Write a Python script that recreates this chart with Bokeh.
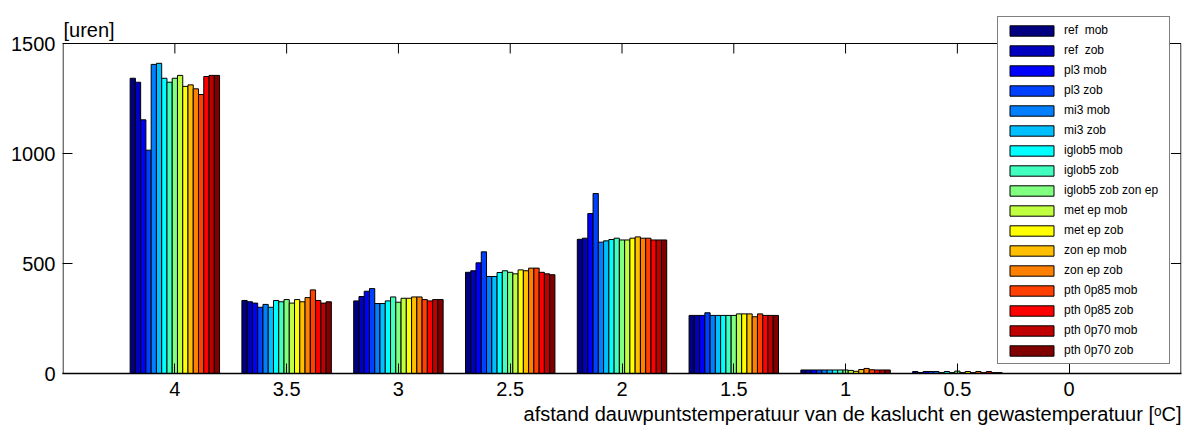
from bokeh.plotting import figure
from bokeh.models import (ColumnDataSource, Range1d, FixedTicker, Legend, LegendItem, Label)
from bokeh.transform import dodge
from bokeh.embed import file_html
from bokeh.resources import INLINE

# ---------------- data ----------------
categories = ["4", "3.5", "3", "2.5", "2", "1.5", "1", "0.5", "0"]
y_ticks = [0, 500, 1000, 1500]

series_names = ["ref  mob", "ref  zob", "pl3 mob", "pl3 zob", "mi3 mob", "mi3 zob",
                "iglob5 mob", "iglob5 zob", "iglob5 zob zon ep", "met ep mob",
                "met ep zob", "zon ep mob", "zon ep zob", "pth 0p85 mob",
                "pth 0p85 zob", "pth 0p70 mob", "pth 0p70 zob"]

ref_mob = [1342, 332, 330, 460, 610, 264, 16, 9, 0]
ref_zob = [1324, 326, 350, 467, 615, 264, 16, 4, 0]
pl3_mob = [1153, 320, 374, 503, 727, 264, 16, 9, 0]
pl3_zob = [1015, 301, 386, 553, 818, 276, 16, 9, 0]
mi3_mob = [1405, 314, 318, 441, 597, 264, 16, 9, 0]
mi3_zob = [1410, 301, 318, 441, 603, 264, 16, 4, 0]
iglob5_mob = [1342, 332, 330, 459, 609, 264, 16, 9, 0]
iglob5_zob = [1324, 326, 348, 467, 615, 264, 16, 4, 0]
iglob5_zob_zon_ep = [1342, 336, 324, 460, 607, 264, 16, 11, 0]
met_ep_mob = [1355, 320, 342, 453, 607, 271, 14, 4, 0]
met_ep_zob = [1305, 336, 342, 471, 615, 271, 10, 9, 0]
zon_ep_mob = [1312, 326, 348, 467, 621, 271, 18, 4, 0]
zon_ep_zob = [1294, 345, 348, 479, 615, 258, 23, 9, 0]
pth_0p85_mob = [1268, 380, 336, 479, 615, 271, 17, 4, 0]
pth_0p85_zob = [1350, 332, 330, 460, 607, 264, 16, 9, 0]
pth_0p70_mob = [1355, 320, 336, 453, 607, 264, 16, 4, 0]
pth_0p70_zob = [1355, 326, 336, 449, 607, 264, 16, 4, 0]

series_values = [ref_mob, ref_zob, pl3_mob, pl3_zob, mi3_mob, mi3_zob,
                 iglob5_mob, iglob5_zob, iglob5_zob_zon_ep, met_ep_mob,
                 met_ep_zob, zon_ep_mob, zon_ep_zob, pth_0p85_mob,
                 pth_0p85_zob, pth_0p70_mob, pth_0p70_zob]

y_title = "[uren]"
x_title = "afstand dauwpuntstemperatuur van de kaslucht en gewastemperatuur [\u1d52C]"

# ---------------- style ----------------
colors = ["#000080", "#0000BF", "#0000FF", "#0040FF", "#0080FF", "#00BFFF",
          "#00FFFF", "#40FFBF", "#80FF80", "#BFFF40", "#FFFF00", "#FFBF00",
          "#FF8000", "#FF4000", "#FF0000", "#BF0000", "#800000"]
FONT = "Liberation Sans"

xpos = [i + 1 for i in range(len(categories))]
x_lo, x_hi = 0, len(categories) + 1
y_max = y_ticks[-1]
# the frame reaches the top of the page so the legend is not clipped;
# the axes box itself ends at y_max
y_view_top = y_max * 373 / 330

data = {"x": xpos}
keys = []
for i, vals in enumerate(series_values):
    k = "s%d" % i
    keys.append(k)
    data[k] = vals
source = ColumnDataSource(data)

p = figure(width=1184, height=432, x_range=Range1d(x_lo - 0.005, x_hi + 0.005),
           y_range=Range1d(0, y_view_top),
           output_backend="svg", toolbar_location=None,
           min_border_left=62, min_border_right=3, min_border_top=0, min_border_bottom=59,
           background_fill_color="white", border_fill_color="white")
p.outline_line_color = None
p.xgrid.visible = False
p.ygrid.visible = False

# axes box (0..y_max) with inward ticks on top and right
p.quad(left=[x_lo], right=[x_hi], bottom=[0], top=[y_max], fill_color=None,
       line_color="black", line_width=1)
p.ray(x=xpos, y=[y_max] * len(xpos), length=10, length_units="screen",
      angle=-90, angle_units="deg", line_color="black", line_width=1)
p.ray(x=[x_hi] * (len(y_ticks) - 2), y=y_ticks[1:-1], length=10, length_units="screen",
      angle=180, angle_units="deg", line_color="black", line_width=1)

n = len(series_values)
group_w = 0.8
bw = group_w / n
items = []
for i, k in enumerate(keys):
    off = (i - (n - 1) / 2) * bw
    r = p.vbar(x=dodge("x", off, range=p.x_range), top=k, width=bw, bottom=0,
               source=source, fill_color=colors[i], line_color="black", line_width=1)
    items.append(LegendItem(label=series_names[i], renderers=[r]))

# axes
xa = p.xaxis[0]
xa.ticker = FixedTicker(ticks=xpos)
xa.major_label_overrides = {x: c for x, c in zip(xpos, categories)}
ya = p.yaxis[0]
ya.ticker = FixedTicker(ticks=y_ticks)
for ax in (xa, ya):
    ax.major_tick_in = 10
    ax.major_tick_out = 0
    ax.minor_tick_line_color = None
    ax.major_label_text_font = FONT
    ax.major_label_text_font_size = "20px"
    ax.major_label_text_color = "black"
    ax.axis_line_color = "black"
    ax.major_tick_line_color = "black"
ya.axis_line_color = None
xa.axis_line_width = 1.5
xa.major_label_standoff = 8
ya.major_label_standoff = 7

# x-axis title as a right-aligned title below the plot
p.title_location = "below"
p.title.text = x_title
p.title.align = "right"
p.title.text_font = FONT
p.title.text_font_size = "20px"
p.title.text_font_style = "normal"
p.title.text_color = "black"
p.title.standoff = 4

# y unit label at the top-left
p.add_layout(Label(x=1, y=344, x_units="screen", y_units="screen", text=y_title,
                   text_font=FONT, text_font_size="20px", text_color="black",
                   text_baseline="alphabetic", text_align="left"))

# legend (location = bottom-left corner in frame screen coords)
legend = Legend(items=items, location=(935, 9), orientation="vertical",
                padding=6, spacing=6, margin=0,
                glyph_width=55, glyph_height=13, label_height=14, label_width=99,
                label_standoff=5, label_text_font=FONT, label_text_font_size="12px",
                label_text_color="black", border_line_color="black", border_line_width=1,
                background_fill_color="white", background_fill_alpha=1.0)
p.add_layout(legend, "center")

open("out.html", "w").write(file_html(p, INLINE))
